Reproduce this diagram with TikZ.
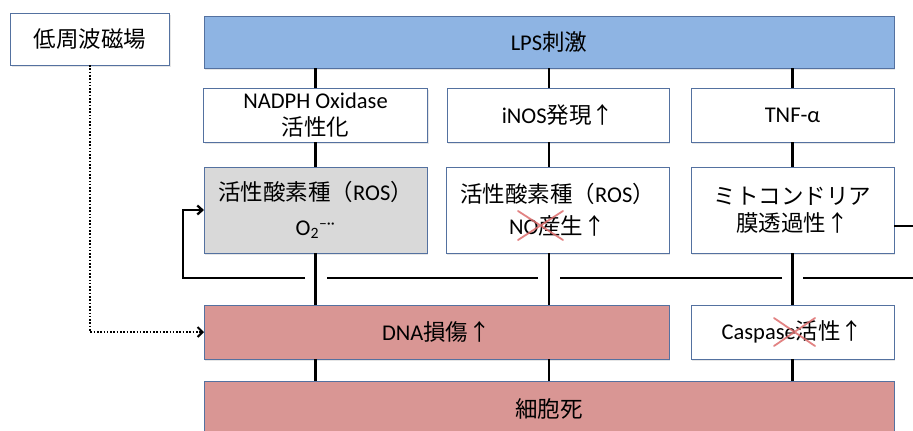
\documentclass[tikz,border=0pt]{standalone}
\usepackage{fontspec}
\setmainfont{Carlito}
\newfontfamily\jp{Noto Sans CJK JP}
\usetikzlibrary{arrows.meta,shadows}
\definecolor{bordc}{RGB}{84,113,160}
\definecolor{lpsblue}{RGB}{142,180,227}
\definecolor{pinkc}{RGB}{217,150,148}
\definecolor{grayc}{RGB}{217,217,217}
\definecolor{crossc}{RGB}{222,110,110}
\begin{document}
\begin{tikzpicture}[x=1pt,y=-1pt,
  box/.style={draw=bordc, line width=1pt, fill=white, inner sep=0pt, outer sep=0pt,
    align=center, font=\fontsize{22.5}{28}\selectfont,
    drop shadow={opacity=0.2, shadow xshift=1pt, shadow yshift=-1.5pt}},
  conn/.style={line width=2.3pt, black},
  dotconn/.style={line width=2pt, black, dash pattern=on 1.6pt off 1.7pt},
  crossx/.style={line width=1.8pt, crossc, opacity=0.85, line cap=round}]
\useasboundingbox (0,0) rectangle (913,431);

% boxes
\node[box, minimum width=159pt, minimum height=52pt] (mag) at (90,39) {\jp 低周波磁場};
\node[box, fill=lpsblue, minimum width=690pt, minimum height=52pt] (lps) at (549,42) {LPS{\jp 刺激}};
\node[box, minimum width=224pt, minimum height=54pt] (nadph) at (315.5,115) {NADPH Oxidase\\[-1pt]{\jp 活性化}};
\node[box, minimum width=222pt, minimum height=54pt] (inos) at (558,115) {iNOS{\jp 発現↑}};
\node[box, minimum width=203pt, minimum height=54pt] (tnf) at (792.5,115) {TNF-α};
\node[box, fill=grayc, minimum width=223pt, minimum height=86pt] (ros1) at (315.5,210) {{\jp 活性酸素種（}ROS{\jp ）}\\[7pt]O\textsubscript{2}\textsuperscript{–··}};
\node[box, minimum width=223pt, minimum height=86pt] (ros2) at (557.5,210) {{\jp 活性酸素種（}ROS{\jp ）}\\[4pt]NO{\jp 産生↑}};
\node[box, minimum width=203pt, minimum height=86pt] (mito) at (792.5,210) {{\jp ミトコンドリア}\\[-1pt]{\jp 膜透過性↑}};
\node[box, fill=pinkc, minimum width=465pt, minimum height=54pt] (dna) at (436.5,332) {DNA{\jp 損傷↑}};
\node[box, minimum width=203pt, minimum height=54pt] (casp) at (792.5,332) {Caspase{\jp 活性↑}};
\node[box, fill=pinkc, minimum width=690pt, minimum height=56pt] (death) at (549,409) {\jp 細胞死};

% crosses
\draw[crossx] (518,211) -- (563,240) (518,240) -- (563,211);
\draw[crossx] (774,318) -- (815,346) (774,346) -- (815,318);

% vertical connectors
\draw[conn] (lps.south -| nadph) -- (nadph.north);
\draw[conn] (nadph.south) -- (ros1.north);
\draw[conn] (ros1.south) -- (ros1.south |- dna.north);
\draw[conn] (ros1.south |- dna.south) -- (ros1.south |- death.north);

\draw[conn] (lps.south) -- (lps.south |- inos.north);
\draw[conn] (lps.south |- inos.south) -- (lps.south |- ros2.north);
\draw[conn] (lps.south |- ros2.south) -- (lps.south |- dna.north);
\draw[conn] (lps.south |- dna.south) -- (death.north);

\draw[conn] (lps.south -| tnf) -- (tnf.north);
\draw[conn] (tnf.south) -- (mito.north);
\draw[conn] (mito.south) -- (casp.north);
\draw[conn] (casp.south) -- (casp.south |- death.north);

% feedback loop
\coordinate (fbA) at (925,226);
\coordinate (fbB) at (925,278);
\coordinate (fbL) at (183,278);
\draw[conn] ([yshift=-16pt]mito.east) -- (fbA) -- (fbB) -- (803,278);
\draw[conn] (782,278) -- (560,278);
\draw[conn] (538,278) -- (327,278);
\draw[conn, -{Straight Barb[length=5pt,width=9pt]}] (305,278) -- (fbL) |- (ros1.west);

% dotted from magnetic field
\draw[dotconn, -{Straight Barb[length=5pt,width=10pt]}] (mag.south) |- (dna.west);
\end{tikzpicture}
\end{document}
